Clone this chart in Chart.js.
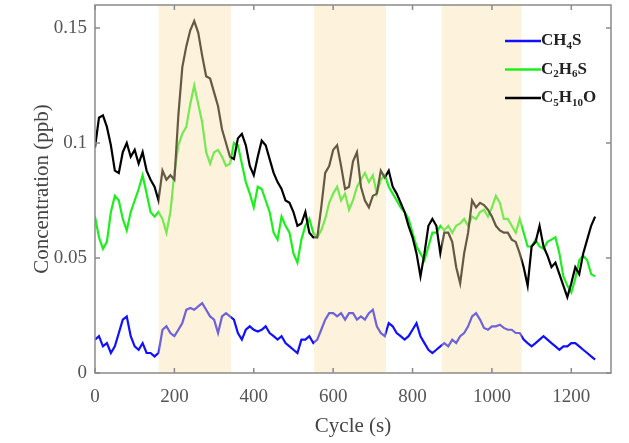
<!DOCTYPE html>
<html>
<head>
<meta charset="utf-8">
<script src="https://cdn.jsdelivr.net/npm/chart.js@4.4.1/dist/chart.umd.min.js"></script>
<style>
  html, body { margin: 0; padding: 0; background: #fff; }
  #wrap { width: 629px; height: 443px; }
</style>
</head>
<body>
<div id="wrap"><canvas id="chart" width="629" height="443"></canvas></div>
<script>
// cycle (s), one reading every 10 s
const cycles = [
  0, 10, 20, 30, 40, 50, 60, 70, 80, 90, 100, 110, 120, 130, 140, 150, 160, 170, 180, 190,
  200, 210, 220, 230, 240, 250, 260, 270, 280, 290, 300, 310, 320, 330, 340, 350, 360, 370, 380, 390,
  400, 410, 420, 430, 440, 450, 460, 470, 480, 490, 500, 510, 520, 530, 540, 550, 560, 570, 580, 590,
  600, 610, 620, 630, 640, 650, 660, 670, 680, 690, 700, 710, 720, 730, 740, 750, 760, 770, 780, 790,
  800, 810, 820, 830, 840, 850, 860, 870, 880, 890, 900, 910, 920, 930, 940, 950, 960, 970, 980, 990,
  1000, 1010, 1020, 1030, 1040, 1050, 1060, 1070, 1080, 1090, 1100, 1110, 1120, 1130, 1140, 1150, 1160, 1170, 1180, 1190,
  1200, 1210, 1220, 1230, 1240, 1250, 1260
];

const ch4s = [
  0.0145, 0.016, 0.0116, 0.013, 0.0087, 0.0116, 0.0174, 0.0232, 0.0246, 0.016, 0.0116, 0.0101, 0.013, 0.0087, 0.0087, 0.0072, 0.0087, 0.0188, 0.0203, 0.0174,
  0.016, 0.0188, 0.0217, 0.0275, 0.0283, 0.0275, 0.029, 0.0304, 0.0275, 0.0246, 0.0232, 0.0174, 0.0246, 0.026, 0.0246, 0.0232, 0.0174, 0.0145, 0.0188, 0.0203,
  0.0188, 0.018, 0.0188, 0.0203, 0.0174, 0.016, 0.0145, 0.016, 0.013, 0.0116, 0.0101, 0.0087, 0.0145, 0.0145, 0.016, 0.013, 0.0145, 0.0188, 0.0232, 0.026,
  0.026, 0.0246, 0.026, 0.0232, 0.026, 0.026, 0.0232, 0.0246, 0.0232, 0.026, 0.0275, 0.0203, 0.0174, 0.016, 0.0217, 0.0203, 0.0174, 0.016, 0.0145, 0.016,
  0.0188, 0.0217, 0.016, 0.013, 0.0101, 0.0087, 0.0101, 0.0116, 0.013, 0.0116, 0.0145, 0.013, 0.016, 0.0174, 0.0203, 0.0246, 0.026, 0.0232, 0.0196, 0.0188,
  0.0203, 0.0203, 0.021, 0.0196, 0.0188, 0.0188, 0.0174, 0.0174, 0.0145, 0.013, 0.0116, 0.013, 0.0145, 0.016, 0.0145, 0.013, 0.0116, 0.0101, 0.0116, 0.0116,
  0.013, 0.013, 0.0116, 0.0101, 0.0087, 0.0072, 0.0058
];

const c2h6s = [
  0.068, 0.059, 0.054, 0.057, 0.070, 0.077, 0.075, 0.067, 0.062, 0.070, 0.075, 0.080, 0.086, 0.078, 0.070, 0.068, 0.070, 0.067, 0.061, 0.070,
  0.087, 0.099, 0.104, 0.107, 0.117, 0.125, 0.117, 0.109, 0.096, 0.091, 0.096, 0.097, 0.094, 0.090, 0.091, 0.100, 0.099, 0.091, 0.083, 0.078,
  0.072, 0.081, 0.080, 0.075, 0.070, 0.061, 0.058, 0.068, 0.064, 0.061, 0.052, 0.048, 0.058, 0.064, 0.067, 0.061, 0.059, 0.062, 0.067, 0.074,
  0.078, 0.081, 0.075, 0.078, 0.071, 0.075, 0.081, 0.084, 0.087, 0.083, 0.086, 0.078, 0.084, 0.086, 0.081, 0.078, 0.075, 0.072, 0.070, 0.067,
  0.061, 0.055, 0.052, 0.049, 0.055, 0.061, 0.061, 0.064, 0.062, 0.064, 0.061, 0.064, 0.065, 0.067, 0.064, 0.068, 0.067, 0.070, 0.071, 0.068,
  0.072, 0.077, 0.074, 0.067, 0.067, 0.064, 0.061, 0.067, 0.061, 0.055, 0.055, 0.058, 0.055, 0.054, 0.057, 0.058, 0.059, 0.052, 0.042, 0.038,
  0.035, 0.041, 0.049, 0.051, 0.049, 0.043, 0.042
];

const c5h10o = [
  0.098, 0.111, 0.112, 0.107, 0.099, 0.088, 0.087, 0.096, 0.100, 0.094, 0.097, 0.091, 0.096, 0.088, 0.084, 0.081, 0.075, 0.088, 0.084, 0.086,
  0.084, 0.112, 0.133, 0.142, 0.149, 0.153, 0.148, 0.138, 0.129, 0.128, 0.122, 0.116, 0.106, 0.100, 0.094, 0.093, 0.102, 0.104, 0.099, 0.090,
  0.086, 0.094, 0.101, 0.099, 0.093, 0.087, 0.083, 0.080, 0.075, 0.074, 0.070, 0.064, 0.065, 0.070, 0.061, 0.059, 0.059, 0.072, 0.087, 0.090,
  0.097, 0.099, 0.090, 0.080, 0.081, 0.092, 0.096, 0.081, 0.075, 0.072, 0.077, 0.078, 0.088, 0.085, 0.088, 0.081, 0.078, 0.074, 0.070, 0.064,
  0.059, 0.052, 0.042, 0.052, 0.064, 0.067, 0.064, 0.052, 0.061, 0.061, 0.057, 0.046, 0.039, 0.052, 0.061, 0.075, 0.072, 0.074, 0.073, 0.071,
  0.068, 0.064, 0.062, 0.061, 0.061, 0.058, 0.057, 0.052, 0.046, 0.038, 0.055, 0.057, 0.064, 0.055, 0.051, 0.046, 0.048, 0.043, 0.038, 0.033,
  0.039, 0.046, 0.043, 0.052, 0.058, 0.064, 0.068
];

// shaded exposure windows, [start, end] in cycle seconds
const bandStarts = [160, 552, 873];
const bandEnds = [343, 733, 1075];

const xTicks = [0, 200, 400, 600, 800, 1000, 1200];
const yTicks = [0, 0.05, 0.1, 0.15];
const yTickLabels = ["0", "0.05", "0.1", "0.15"];

const seriesNames = ["CH4S", "C2H6S", "C5H10O"];
const seriesColors = ["#1010ff", "#1cf01c", "#000000"];

const SERIF = '"Liberation Serif", "Times New Roman", serif';

function pts(values) {
  return cycles.map((c, i) => ({ x: c, y: values[i] }));
}

// orange-ish wash over the exposure windows (drawn on top, like the source)
const bandsPlugin = {
  id: "bands",
  afterDatasetsDraw(chart) {
    const { ctx, chartArea, scales } = chart;
    ctx.save();
    ctx.fillStyle = "rgba(250, 222, 165, 0.4)";
    bandStarts.forEach((s, i) => {
      const x0 = scales.x.getPixelForValue(s);
      const x1 = scales.x.getPixelForValue(bandEnds[i]);
      ctx.fillRect(x0, chartArea.top, x1 - x0, chartArea.bottom - chartArea.top);
    });
    ctx.restore();
  },
};

// matlab style box with inward ticks on every side
const boxPlugin = {
  id: "box",
  afterDraw(chart) {
    const { ctx, chartArea: a, scales } = chart;
    ctx.save();
    ctx.strokeStyle = "#8a8a8a";
    ctx.lineWidth = 1.5;
    ctx.strokeRect(a.left, a.top, a.right - a.left, a.bottom - a.top);
    ctx.beginPath();
    xTicks.forEach((v) => {
      const x = scales.x.getPixelForValue(v);
      ctx.moveTo(x, a.bottom);
      ctx.lineTo(x, a.bottom - 5);
      ctx.moveTo(x, a.top);
      ctx.lineTo(x, a.top + 5);
    });
    yTicks.forEach((v) => {
      const y = scales.y.getPixelForValue(v);
      ctx.moveTo(a.left, y);
      ctx.lineTo(a.left + 5, y);
      ctx.moveTo(a.right, y);
      ctx.lineTo(a.right - 5, y);
    });
    ctx.stroke();
    ctx.restore();
  },
};

// draw a formula with its digits as subscripts
function drawFormula(ctx, text, x, y) {
  let cx = x;
  for (const ch of text) {
    if (/[0-9]/.test(ch)) {
      ctx.font = "bold 11px " + SERIF;
      ctx.fillText(ch, cx, y + 5);
    } else {
      ctx.font = "bold 17px " + SERIF;
      ctx.fillText(ch, cx, y);
    }
    cx += ctx.measureText(ch).width;
  }
}

const legendPlugin = {
  id: "formulaLegend",
  afterDraw(chart) {
    const { ctx, chartArea: a } = chart;
    ctx.save();
    ctx.textBaseline = "middle";
    ctx.fillStyle = "#222";
    chart.data.datasets.forEach((ds, i) => {
      const y = a.top + 36 + i * 28.5;
      const x0 = a.right - 106;
      ctx.strokeStyle = ds.borderColor;
      ctx.lineWidth = 2.5;
      ctx.beginPath();
      ctx.moveTo(x0, y);
      ctx.lineTo(x0 + 36, y);
      ctx.stroke();
      drawFormula(ctx, ds.label, x0 + 36, y);
    });
    ctx.restore();
  },
};

new Chart(document.getElementById("chart"), {
  type: "line",
  data: {
    datasets: seriesNames.map((name, i) => ({
      label: name,
      data: pts([ch4s, c2h6s, c5h10o][i]),
      borderColor: seriesColors[i],
      borderWidth: 2.2,
      pointRadius: 0,
      tension: 0,
      order: 2 - i,
    })),
  },
  options: {
    responsive: false,
    animation: false,
    layout: { padding: { top: 5, right: 18, left: 0, bottom: 0 } },
    plugins: { legend: { display: false }, tooltip: { enabled: false } },
    scales: {
      x: {
        type: "linear",
        min: 0,
        max: 1300,
        grid: { display: false },
        border: { display: false },
        afterBuildTicks: (scale) => { scale.ticks = xTicks.map((v) => ({ value: v })); },
        afterFit: (scale) => {
          scale.height = 70;
          scale.paddingLeft = 0;
          scale.paddingRight = 0;
        },
        ticks: {
          color: "#555",
          font: { family: SERIF, size: 19 },
          padding: 5,
          maxRotation: 0,
          callback: (v) => String(v),
        },
        title: {
          display: true,
          text: "Cycle (s)",
          color: "#444",
          font: { family: SERIF, size: 21 },
          padding: { top: 0, bottom: 4 },
        },
      },
      y: {
        min: 0,
        max: 0.16,
        grid: { display: false },
        border: { display: false },
        afterBuildTicks: (scale) => { scale.ticks = yTicks.map((v) => ({ value: v })); },
        afterFit: (scale) => {
          scale.width = 95;
          scale.paddingTop = 0;
          scale.paddingBottom = 0;
        },
        ticks: {
          color: "#555",
          font: { family: SERIF, size: 19 },
          padding: 0,
          callback: (v) => yTickLabels[yTicks.indexOf(v)] ?? "",
        },
        title: {
          display: true,
          text: "Concentration (ppb)",
          color: "#444",
          font: { family: SERIF, size: 21 },
          padding: { top: 30, bottom: 0 },
        },
      },
    },
  },
  plugins: [bandsPlugin, boxPlugin, legendPlugin],
});
</script>
</body>
</html>
